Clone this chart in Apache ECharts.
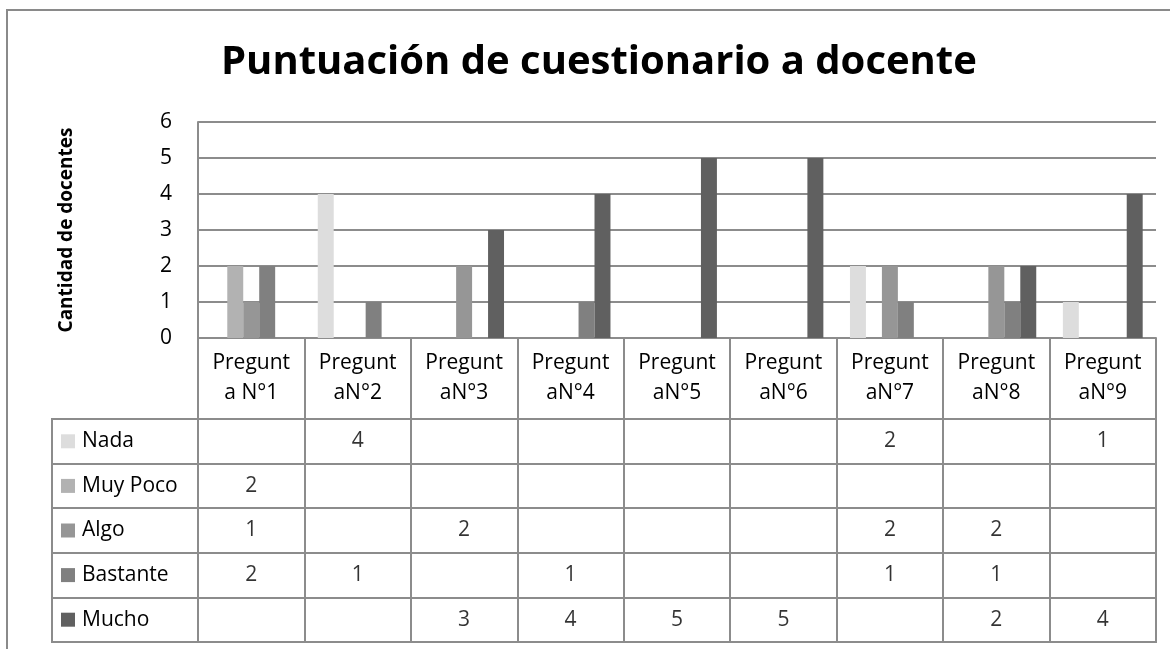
<!DOCTYPE html>
<html>
<head>
<meta charset="utf-8">
<script src="https://cdn.jsdelivr.net/npm/echarts@6/dist/echarts.min.js"></script>
<style>
  html, body { margin: 0; padding: 0; background: #fff; }
  #chart { width: 1170px; height: 649px; }
</style>
</head>
<body>
<div id="chart"></div>
<script>
// datos del cuestionario
var categories = ['Pregunta N°1', 'Pregunta N°2', 'Pregunta N°3', 'Pregunta N°4', 'Pregunta N°5',
                  'Pregunta N°6', 'Pregunta N°7', 'Pregunta N°8', 'Pregunta N°9'];
var headerLabels = ['Pregunt\na N°1', 'Pregunt\naN°2', 'Pregunt\naN°3', 'Pregunt\naN°4', 'Pregunt\naN°5',
                    'Pregunt\naN°6', 'Pregunt\naN°7', 'Pregunt\naN°8', 'Pregunt\naN°9'];
var seriesNames = ['Nada', 'Muy Poco', 'Algo', 'Bastante', 'Mucho'];
var nada     = [null, 4, null, null, null, null, 2, null, 1];
var muyPoco  = [2, null, null, null, null, null, null, null, null];
var algo     = [1, null, 2, null, null, null, 2, 2, null];
var bastante = [2, 1, null, 1, null, null, 1, 1, null];
var mucho    = [null, null, 3, 4, 5, 5, null, 2, 4];
var yTicks = [0, 1, 2, 3, 4, 5, 6];

var colors = ['#dddddd', '#b2b2b2', '#969696', '#808080', '#606060'];
var lineGray = '#8c8c8c';
var font = '"Open Sans", Lato, sans-serif';
var txt = 21;

var allSeries = [nada, muyPoco, algo, bastante, mucho];

var myChart = echarts.init(document.getElementById('chart'));

// celdas de la tabla de datos
var cells = [];
allSeries.forEach(function (arr, si) {
    arr.forEach(function (v, ci) {
        if (v !== null) cells.push([ci, si, v]);
    });
});

var rich = {};
colors.forEach(function (c, i) {
    rich['s' + i] = { backgroundColor: c, width: 14, height: 14 };
});
rich.t = { fontSize: txt, fontFamily: font, color: '#000', padding: [0, 0, 0, 7] };

var bars = seriesNames.map(function (name, i) {
    return {
        name: name,
        type: 'bar',
        xAxisIndex: 0,
        yAxisIndex: 0,
        barGap: 0,
        barCategoryGap: '25%',
        itemStyle: { color: colors[i] },
        data: allSeries[i]
    };
});

var option = {
    backgroundColor: '#fff',
    animation: false,
    textStyle: { fontFamily: font },
    title: {
        text: 'Puntuación de cuestionario a docente',
        left: 216,
        top: 38,
        textStyle: { fontFamily: font, fontWeight: 'bold', fontSize: 40, color: '#000' }
    },
    graphic: [{
        type: 'rect',
        shape: { x: 7, y: 10, width: 1200, height: 700 },
        style: { fill: 'none', stroke: '#8a8a8a', lineWidth: 2 },
        silent: true
    }],
    grid: [
        { left: 198, top: 122, width: 958, height: 216 },
        { left: 52, top: 419, width: 146, height: 223, show: true, borderColor: lineGray, borderWidth: 2 },
        { left: 198, top: 419, width: 958, height: 223, show: true, borderColor: lineGray, borderWidth: 2 }
    ],
    xAxis: [
        {
            type: 'category',
            gridIndex: 0,
            data: headerLabels,
            axisLine: { show: true, lineStyle: { color: lineGray, width: 2 } },
            axisTick: { show: true, length: 81, interval: 0, lineStyle: { color: lineGray, width: 2 } },
            axisLabel: { interval: 0, margin: 10, fontSize: txt, lineHeight: 30, color: '#000', fontFamily: font }
        },
        { type: 'value', gridIndex: 1, show: false },
        {
            type: 'category',
            gridIndex: 2,
            data: categories,
            axisLine: { show: false },
            axisTick: { show: false },
            axisLabel: { show: false },
            splitLine: { show: true, interval: 0, lineStyle: { color: lineGray, width: 2 } }
        }
    ],
    yAxis: [
        {
            type: 'value',
            gridIndex: 0,
            min: 0,
            max: 6,
            interval: 1,
            name: 'Cantidad de docentes',
            nameLocation: 'middle',
            nameRotate: 90,
            nameGap: 122,
            nameTextStyle: { fontFamily: font, fontWeight: 'bold', fontSize: 19, color: '#000' },
            axisLine: { show: true, lineStyle: { color: lineGray, width: 2 } },
            axisTick: { show: false },
            axisLabel: {
                margin: 26, fontSize: txt, color: '#000', fontFamily: font,
                formatter: function (v) { return yTicks.indexOf(v) >= 0 ? String(v) : ''; }
            },
            splitLine: { show: true, lineStyle: { color: lineGray, width: 2 } }
        },
        {
            type: 'category',
            gridIndex: 1,
            data: seriesNames,
            inverse: true,
            axisLine: { show: false },
            axisTick: { show: false },
            splitLine: { show: true, interval: 0, lineStyle: { color: lineGray, width: 2 } },
            axisLabel: {
                inside: true,
                margin: 9,
                interval: 0,
                rich: rich,
                formatter: function (v) {
                    var i = seriesNames.indexOf(v);
                    return '{s' + i + '|}{t|' + v + '}';
                }
            }
        },
        {
            type: 'category',
            gridIndex: 2,
            data: seriesNames,
            inverse: true,
            axisLine: { show: false },
            axisTick: { show: false },
            axisLabel: { show: false },
            splitLine: { show: true, interval: 0, lineStyle: { color: lineGray, width: 2 } }
        }
    ],
    series: bars.concat([{
        type: 'scatter',
        xAxisIndex: 2,
        yAxisIndex: 2,
        symbolSize: 0,
        silent: true,
        label: {
            show: true,
            position: 'inside',
            fontSize: txt,
            fontFamily: font,
            color: '#000',
            formatter: function (p) { return String(p.value[2]); }
        },
        data: cells
    }])
};

myChart.setOption(option);
</script>
</body>
</html>
